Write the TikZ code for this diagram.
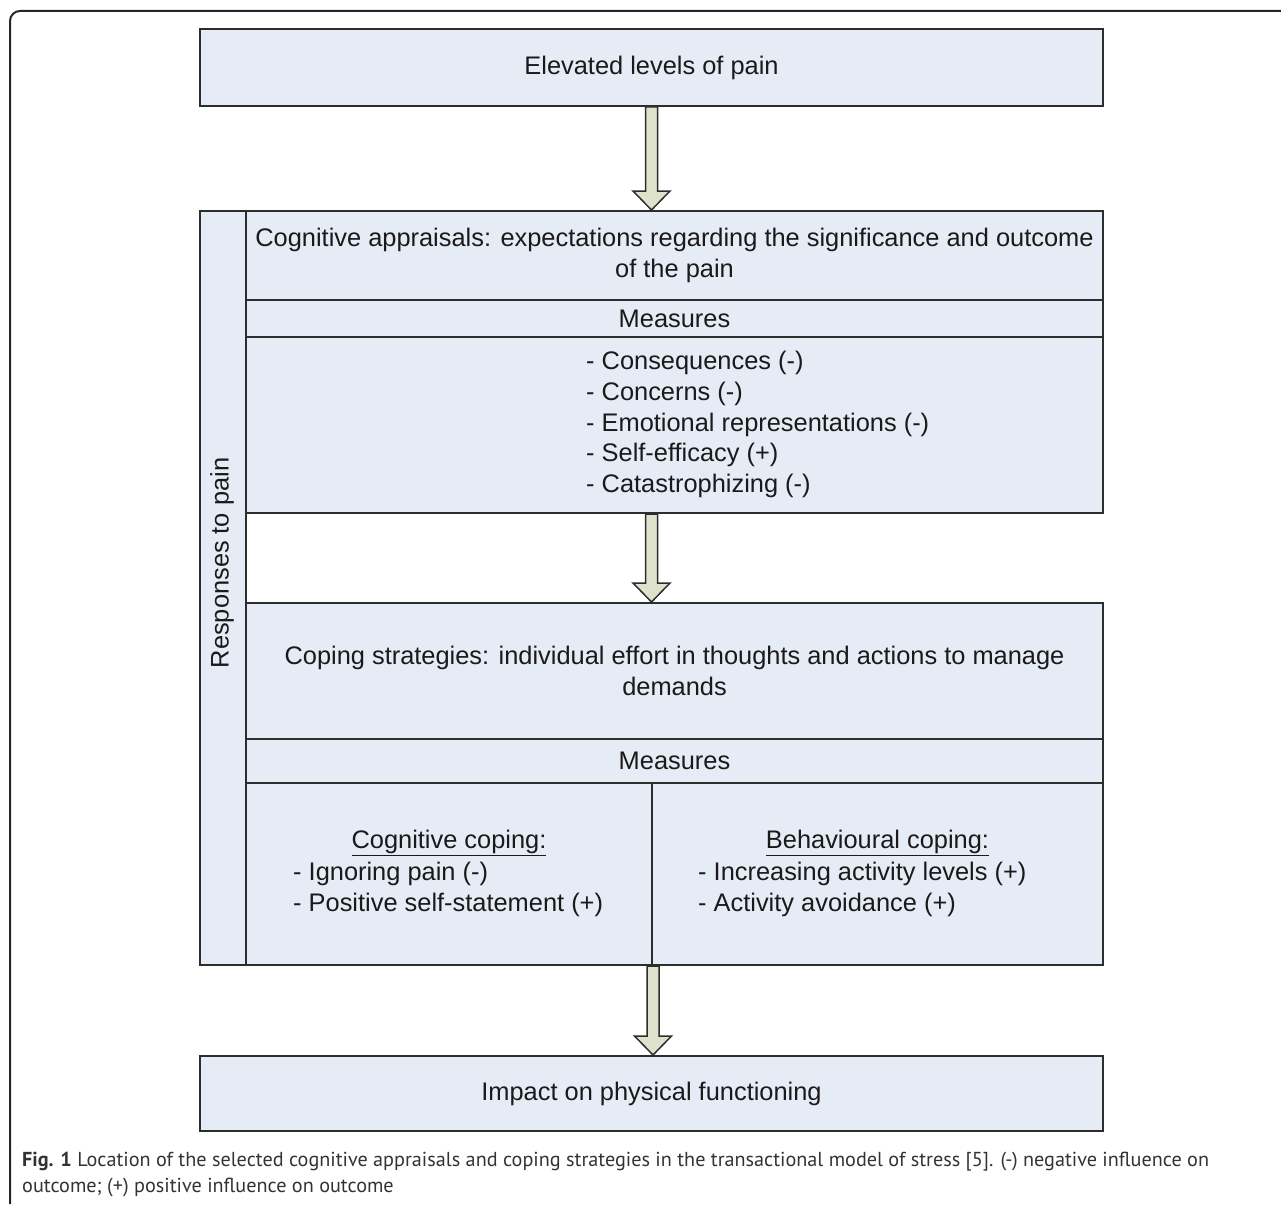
\documentclass[tikz,border=0pt]{standalone}
\usepackage{fontspec}
\setmainfont{Liberation Sans}
\newfontfamily\captionfont{PT Sans}
\usetikzlibrary{calc}

\definecolor{boxfill}{RGB}{230,236,246}
\definecolor{boxline}{RGB}{45,45,45}
\definecolor{arrowfill}{RGB}{222,226,205}
\definecolor{labeltext}{RGB}{26,26,26}
\definecolor{captiontext}{RGB}{51,51,51}

% block arrow from #1 down to #2
\newcommand{\blockarrow}[2]{%
  \path[draw=boxline, line width=1.5pt, fill=arrowfill] let \p1=(#1), \p2=(#2) in
    (\x1-6pt,\y1) -- (\x1+6pt,\y1) -- (\x1+6pt,\y2+19pt) -- (\x1+18.5pt,\y2+19pt)
    -- (\x1,\y2) -- (\x1-18.5pt,\y2+19pt) -- (\x1-6pt,\y2+19pt) -- cycle;}

\begin{document}
\begin{tikzpicture}[x=1pt,y=-1pt]
	\tikzset{box/.style={draw=boxline, line width=2pt, fill=boxfill, inner sep=0pt, text=labeltext, font=\fontsize{25.4}{30.75}\selectfont, align=center},
		txt/.style={inner sep=0pt, text=labeltext, font=\fontsize{25.4}{30.75}\selectfont}}
	\useasboundingbox (0,0) rectangle (1281,1204);

	% Frame
	\draw[line width=2pt, color=black!85, rounded corners=10pt] (10,1204) -- (10,11) -- (1281,11);

	% Boxes
	\node[box, minimum width=903pt, minimum height=77pt] (elevated) at (651.5,67.5) {Elevated levels of pain};
	\node[box, minimum width=46pt, minimum height=754pt] (responses) at (223,588) {};
	\node[box, minimum width=857pt, minimum height=89pt] (appraisal) at (674.5,255.5) {Cognitive appraisals: expectations regarding the significance and outcome\\of the pain};
	\node[box, minimum width=857pt, minimum height=37pt] (measures1) at (674.5,318.5) {Measures};
	\node[box, minimum width=857pt, minimum height=176pt] (list1) at (674.5,425) {};
	\node[box, minimum width=857pt, minimum height=136pt] (coping) at (674.5,671) {Coping strategies: individual effort in thoughts and actions to manage\\demands};
	\node[box, minimum width=857pt, minimum height=44pt] (measures2) at (674.5,761) {Measures};
	\node[box, minimum width=406pt, minimum height=182pt] (cogcope) at (449,874) {};
	\node[box, minimum width=451pt, minimum height=182pt] (behcope) at (877.5,874) {};
	\node[box, minimum width=903pt, minimum height=75pt] (impact) at (651.5,1093.5) {Impact on physical functioning};

	% Texts
	\node[txt, rotate=90] (responsestext) at (222,563) {Responses to pain};
	\node[txt, anchor=west, align=left] (list1text) at (586,424.5) {- Consequences (-)\\- Concerns (-)\\- Emotional representations (-)\\- Self-efficacy (+)\\- Catastrophizing (-)};
	\node[txt] (cogtitle) at (449,843) {\underline{Cognitive coping:}};
	\node[txt, anchor=west, align=left] (coglist) at (293,889.5) {- Ignoring pain (-)\\- Positive self-statement (+)};
	\node[txt] (behtitle) at (877.5,843) {\underline{Behavioural coping:}};
	\node[txt, anchor=west, align=left] (behlist) at (698,889.5) {- Increasing activity levels (+)\\- Activity avoidance (+)};

	% Arrows
	\blockarrow{elevated.south}{elevated.south |- appraisal.north}
	\blockarrow{elevated.south |- list1.south}{elevated.south |- coping.north}
	\blockarrow{cogcope.south east}{cogcope.south east |- impact.north}

	% Caption
	\node[anchor=north west, align=left, inner sep=0pt, text=captiontext, font=\captionfont\fontsize{20.2}{26}\selectfont] (caption) at (22,1152)
		{\textbf{Fig. 1} Location of the selected cognitive appraisals and coping strategies in the transactional model of stress [5]. (-) negative influence on\\outcome; (+) positive influence on outcome};
\end{tikzpicture}
\end{document}
